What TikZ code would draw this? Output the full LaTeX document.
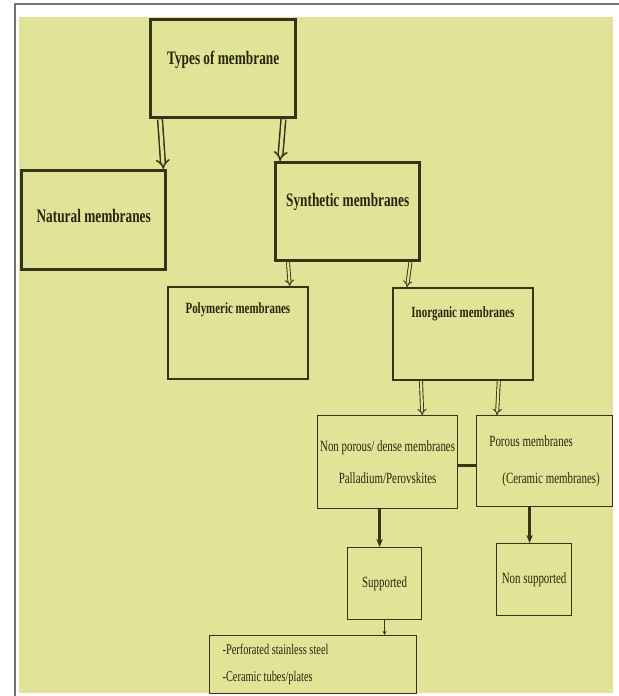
\documentclass[tikz,border=0pt]{standalone}
\usepackage{fontspec}
\setmainfont{Liberation Serif}[FakeStretch=0.7]
\usetikzlibrary{arrows.meta}
\definecolor{paper}{RGB}{225,228,151}
\definecolor{edge}{RGB}{52,52,22}
\definecolor{ink}{RGB}{38,38,14}
\definecolor{frame}{RGB}{115,115,115}
\tikzstyle{box} = [rectangle, anchor=north west, inner sep=0pt, draw=edge, fill=paper, text=ink]
\tikzstyle{mainbox} = [box, line width=1.7pt, minimum width=72pt, font=\bfseries\fontsize{9.5}{11}\selectfont]
\tikzstyle{subbox} = [box, line width=0.9pt, minimum width=70pt, font=\bfseries\fontsize{7.8}{9}\selectfont]
\tikzstyle{leafbox} = [box, line width=0.6pt, font=\fontsize{7.8}{16}\selectfont]
\tikzstyle{bigarrow} = [draw=edge, line width=0.75pt, double=paper, double distance=1.6pt, -{Implies}]
\tikzstyle{smallarrow} = [draw=edge, line width=0.45pt, double=paper, double distance=1.1pt, -{Implies}]
\tikzstyle{thickarrow} = [draw=edge, line width=1.4pt, -{Stealth[length=4pt,width=3.2pt]}]
\tikzstyle{link} = [draw=edge, line width=0.4pt, -{Stealth[length=2pt,width=2pt]}]
\begin{document}
\begin{tikzpicture}[x=0.5pt, y=-0.5pt]
    \useasboundingbox (0,0) rectangle (619,696);
    \fill[white] (0,0) rectangle (619,696);
    \fill[paper] (19,17) rectangle (613,693);
    \draw[frame, line width=1pt] (14,4) -- (619,4);
    \draw[frame, line width=0.8pt] (15,4) -- (15,696);

    % top levels
    \node (types) [mainbox, minimum width=72.5pt, text height=22.5pt, text depth=26.5pt] at (149,18) {Types of membrane};
    \node (natural) [mainbox, text height=26pt, text depth=23.5pt] at (20,169) {Natural membranes};
    \node (synth) [mainbox, text height=22pt, text depth=27pt] at (274,161) {Synthetic membranes};
    \node (poly) [subbox, text height=13.5pt, text depth=32.5pt] at (167,286) {Polymeric membranes};
    \node (inorg) [subbox, text height=15pt, text depth=31pt] at (392,287) {Inorganic membranes};

    % inorganic branch
    \node (dense) [leafbox, minimum width=70pt, minimum height=46.5pt, align=center] at (317,415) {Non porous/ dense membranes\\Palladium/Perovskites};
    \node (porous) [leafbox, minimum width=68pt, minimum height=45.5pt, align=flush left, font=\fontsize{7.8}{18.5}\selectfont] at (476,415) {Porous membranes\\\hspace*{6.5pt}(Ceramic membranes)};
    \node (supp) [leafbox, minimum width=37pt, minimum height=36pt] at (347,547) {Supported};
    \node (nonsupp) [leafbox, minimum width=37.5pt, minimum height=36pt] at (496,543) {Non supported};
    \node (list) [leafbox, inner xsep=6.5pt, text width=90.5pt, minimum height=29pt, align=flush left, font=\fontsize{7.4}{13.5}\selectfont] at (209,635) {-Perforated stainless steel\\-Ceramic tubes/plates};

    \draw [bigarrow] ([xshift=5.5pt]types.south west) -- ([xshift=-2pt]natural.north east);
    \draw [bigarrow] ([xshift=-7pt]types.south east) -- ([xshift=3pt]synth.north west);
    \draw [smallarrow] ([xshift=7pt]synth.south west) -- ([xshift=-9.5pt]poly.north east);
    \draw [smallarrow] ([xshift=-5.5pt]synth.south east) -- ([xshift=7.5pt]inorg.north west);
    \draw [smallarrow] ([xshift=14.5pt]inorg.south west) -- ([xshift=-18pt]dense.north east);
    \draw [smallarrow] ([xshift=-17.5pt]inorg.south east) -- ([xshift=10.5pt]porous.north west);
    \draw [draw=edge, line width=1.4pt] ([yshift=-1.75pt]dense.east) -- ([yshift=-1.75pt]dense.east -| porous.west);
    \draw [thickarrow] ([xshift=-4pt]dense.south) -- ([xshift=-2.5pt]supp.north);
    \draw [thickarrow] ([xshift=-7.5pt]porous.south) -- ([xshift=-2.25pt]nonsupp.north);
    \draw [link] (supp.south) -- (supp.south |- list.north);
\end{tikzpicture}
\end{document}
